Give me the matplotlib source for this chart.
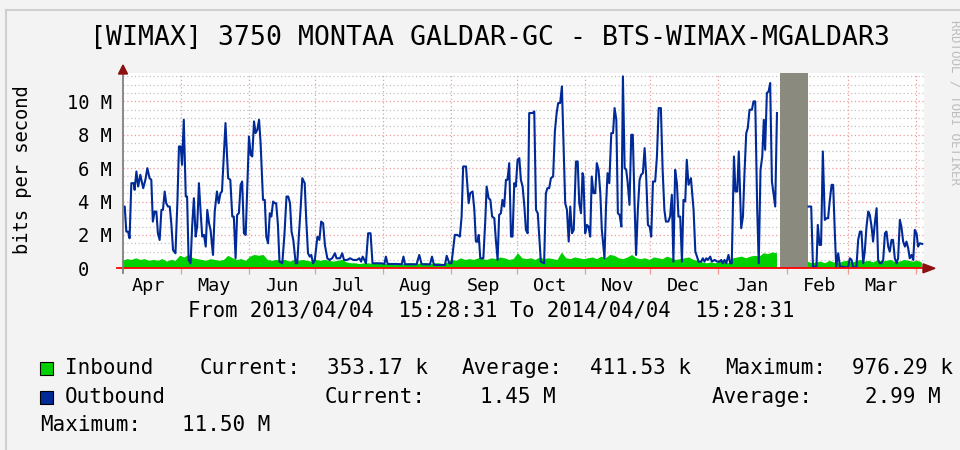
import numpy as np
import matplotlib
matplotlib.use("Agg")
import matplotlib.pyplot as plt
from matplotlib.patches import Rectangle, Polygon
from matplotlib.lines import Line2D
from datetime import datetime

# ---------------- data ----------------
START = datetime(2013, 4, 4, 15, 28, 31)
SPAN_DAYS = 365.0

month_names = ['Apr', 'May', 'Jun', 'Jul', 'Aug', 'Sep', 'Oct', 'Nov', 'Dec', 'Jan', 'Feb', 'Mar']
month_label_dates = [datetime(2013, 4, 16), datetime(2013, 5, 16), datetime(2013, 6, 16),
                     datetime(2013, 7, 16), datetime(2013, 8, 16), datetime(2013, 9, 16),
                     datetime(2013, 10, 16), datetime(2013, 11, 16), datetime(2013, 12, 16),
                     datetime(2014, 1, 16), datetime(2014, 2, 16), datetime(2014, 3, 16)]
month_start_dates = [datetime(2013, 5, 1), datetime(2013, 6, 1), datetime(2013, 7, 1),
                     datetime(2013, 8, 1), datetime(2013, 9, 1), datetime(2013, 10, 1),
                     datetime(2013, 11, 1), datetime(2013, 12, 1), datetime(2014, 1, 1),
                     datetime(2014, 2, 1), datetime(2014, 3, 1), datetime(2014, 4, 1)]

# unknown-data period (days since start)
gap_start, gap_end = 299.2, 312.1

# Outbound (Mbit/s), days since start
out_days_apr = [0.0, 0.8, 1.5, 2.3, 3.0, 3.8, 4.9, 5.3, 6.1, 6.9, 7.9, 9.2, 10.2, 11.1, 12.1, 12.9,
                13.6, 14.4, 15.2, 15.9, 16.7, 17.5, 18.2, 19.0, 19.7, 20.5, 21.3, 22.0, 22.8, 23.9,
                24.8, 25.5, 26.3, 26.9, 27.7, 28.6, 29.2, 29.9, 30.8, 31.5, 32.3, 33.1, 33.8, 34.6,
                35.4, 36.1, 36.9, 37.7, 38.4, 39.2, 39.9, 41.0, 41.8, 42.8, 43.6, 44.4, 45.1, 46.7,
                47.9, 48.9, 49.8]
out_vals_apr = [3.7, 3.7, 2.2, 2.2, 1.8, 5.1, 5.1, 4.7, 5.8, 4.9, 5.6, 4.8, 5.3, 6.0, 5.4, 5.3,
                2.8, 3.4, 3.4, 2.1, 1.7, 3.5, 3.5, 4.6, 3.9, 3.7, 3.7, 2.7, 1.1, 0.9,
                4.0, 7.3, 7.3, 6.2, 8.9, 4.3, 4.3, 0.5, 0.3, 2.5, 4.2, 1.9, 2.5, 5.1,
                3.3, 1.9, 2.0, 1.3, 3.5, 2.7, 2.3, 0.8, 3.4, 4.6, 3.9, 4.5, 4.6, 8.7,
                5.4, 5.3, 3.1]

out_days_jun = [50.5, 51.3, 52.0, 52.8, 53.6, 54.3, 55.1, 55.9, 57.4, 58.2, 58.9, 59.7, 60.4, 61.2,
                62.0, 62.7, 63.8, 64.6, 65.3, 66.1, 66.9, 67.6, 68.4, 69.1, 69.8, 70.6, 71.3, 72.6,
                73.6, 74.5, 75.3, 76.1, 76.8, 77.6, 78.7, 79.4, 80.2, 80.9, 81.7, 82.8, 83.5, 84.3,
                85.1, 85.8, 86.6, 87.4, 88.6, 89.5, 90.3, 91.2, 92.0, 93.1, 94.1, 95.3, 96.6, 97.3,
                98.9, 99.9, 100.7, 102.2]
out_vals_jun = [3.1, 0.6, 3.2, 3.3, 5.0, 5.2, 2.1, 2.0, 7.9, 6.8, 6.7, 8.8, 8.1, 8.3,
                8.9, 7.5, 4.1, 4.1, 1.9, 1.5, 3.3, 3.1, 4.0, 3.9, 3.9, 2.6, 0.4, 0.3,
                2.1, 4.3, 4.3, 3.9, 2.2, 1.7, 0.3, 0.3, 2.1, 3.5, 5.4, 5.1, 2.9, 0.9,
                0.7, 0.8, 0.3, 0.5, 1.9, 1.7, 2.8, 2.7, 1.4, 0.6, 0.5, 0.6, 0.9, 0.6,
                0.6, 0.9, 0.5, 0.5]

out_days_aug = [103.4, 105.0, 106.5, 107.7, 108.5, 109.2, 110.0, 110.7, 111.7, 112.8, 113.7, 115.5,
                117.8, 119.1, 119.8, 120.6, 124.7, 127.0, 127.8, 128.5, 133.8, 135.0, 136.1, 139.9,
                140.8, 141.7, 146.7, 147.5, 148.7, 149.7, 151.2, 152.3, 153.5, 154.3, 155.0, 156.3]
out_vals_aug = [0.6, 0.5, 0.5, 0.6, 0.4, 0.7, 0.5, 0.3, 2.1, 2.1, 0.3, 0.3,
                0.3, 0.26, 0.7, 0.26, 0.26, 0.24, 0.7, 0.24, 0.24, 0.8, 0.24, 0.24,
                0.7, 0.2, 0.2, 0.75, 0.3, 0.3, 2.0, 2.0, 1.9, 3.1, 6.1, 6.1]

out_days_sep = [157.5, 158.2, 159.3, 160.1, 160.8, 161.6, 162.1, 162.8, 164.2, 165.1, 165.7, 166.6,
                167.4, 168.2, 169.2, 169.9, 170.7, 171.4, 172.2, 172.9, 173.7, 174.5, 175.2, 176.0,
                176.8, 177.5, 178.3, 179.0, 179.8, 180.6, 181.3, 182.1, 182.9, 183.6, 184.4, 185.1,
                186.7, 187.4, 188.2, 189.0, 189.6, 190.4, 191.9, 192.7, 193.4, 194.2, 195.0, 196.0,
                196.8, 197.6, 198.3, 199.2, 200.0, 200.8, 201.5, 202.3, 203.1, 203.8, 204.6, 205.4,
                206.4, 207.2, 207.9, 208.7, 209.4]
out_vals_sep = [3.9, 4.5, 4.6, 3.5, 1.6, 1.6, 2.0, 0.6, 0.6, 2.9, 4.9, 4.2,
                4.1, 3.1, 3.0, 1.7, 0.5, 3.2, 3.3, 4.1, 3.7, 5.3, 5.3, 6.3,
                1.9, 1.9, 5.1, 4.9, 6.5, 6.6, 5.3, 4.9, 3.7, 2.3, 2.1, 9.3,
                9.3, 9.4, 3.5, 3.3, 2.1, 0.4, 0.3, 4.5, 4.8, 4.8, 5.4, 5.5,
                8.2, 9.3, 9.9, 9.9, 10.9, 7.1, 3.9, 3.5, 1.6, 3.7, 2.1, 2.3,
                6.4, 6.4, 3.9, 3.3, 5.7]

out_days_nov = [209.8, 210.6, 211.4, 212.1, 212.9, 213.6, 214.4, 215.2, 215.9, 216.7, 217.5, 218.2,
                219.4, 220.1, 220.8, 221.6, 222.5, 223.3, 224.0, 224.8, 225.5, 226.3, 227.1, 227.8,
                228.6, 229.3, 230.0, 230.8, 231.6, 232.3, 233.1, 233.8, 234.6, 235.4, 236.1, 236.9,
                237.7, 238.4, 239.2, 240.0, 240.7, 241.5, 242.5, 243.3, 244.1, 245.1, 245.9, 246.7,
                247.4, 248.5, 249.3, 250.1, 250.8, 251.6, 252.4, 253.1, 253.9, 254.7, 255.4, 256.2,
                256.9, 257.7, 258.8, 260.0, 260.8, 262.3]
out_vals_nov = [5.5, 2.1, 2.6, 2.5, 1.9, 5.5, 4.5, 4.5, 6.3, 5.9, 4.5, 2.3,
                0.6, 3.7, 5.7, 5.1, 8.1, 8.1, 9.6, 8.9, 3.3, 3.2, 2.5, 11.5,
                6.0, 5.9, 5.1, 3.8, 8.0, 8.0, 3.9, 0.8, 3.5, 5.3, 5.6, 5.7,
                7.2, 5.5, 2.6, 2.5, 1.9, 5.2, 5.2, 6.7, 9.6, 9.6, 5.9, 3.5,
                2.8, 2.8, 3.1, 4.4, 0.4, 5.9, 5.1, 3.1, 3.1, 0.4, 4.1, 4.0,
                6.5, 5.0, 5.4, 3.5, 1.0, 0.4]

out_days_jan = [263.5, 264.2, 265.0, 265.8, 266.5, 267.6, 268.3, 269.6, 270.8, 271.8, 272.6, 273.3,
                274.1, 274.9, 275.9, 276.7, 277.4, 278.4, 279.1, 279.9, 280.6, 281.7, 282.5, 283.2,
                284.0, 284.7, 285.5, 286.6, 287.3, 288.1, 289.0, 289.7, 290.5, 291.3, 292.0, 292.6,
                293.4, 294.2, 294.9, 295.7, 296.4, 297.2, 298.0]
out_vals_jan = [0.4, 0.6, 0.4, 0.6, 0.5, 0.7, 0.4, 0.5, 0.4, 0.4, 0.5, 0.3,
                0.5, 0.3, 0.8, 0.3, 0.3, 6.7, 4.6, 4.6, 7.0, 2.4, 3.1, 5.7,
                8.1, 8.4, 9.5, 9.5, 10.0, 10.0, 3.5, 0.3, 5.9, 6.7, 8.9, 7.1,
                10.5, 10.6, 11.1, 5.2, 4.5, 3.7, 9.3]

out_days_mar = [312.4, 313.6, 314.4, 316.0, 316.6, 317.4, 318.1, 318.9, 319.8, 320.6, 321.3, 322.1,
                322.9, 323.6, 324.4, 325.0, 325.9, 326.7, 327.7, 329.2, 330.4, 331.2, 332.0, 332.7,
                334.2, 335.0, 335.8, 336.5, 337.3, 338.0, 338.8, 339.6, 340.3, 341.1, 341.8, 342.6,
                343.4, 344.1, 344.9, 345.6, 346.4, 347.2, 347.9, 348.7, 349.4, 350.2, 350.9, 351.7,
                352.5, 353.2, 354.0, 354.7, 355.5, 356.3, 357.0, 357.8, 358.5, 359.3, 360.1, 360.8,
                361.6, 362.3, 363.1, 364.2]
out_vals_mar = [3.7, 3.7, 0.1, 0.1, 2.6, 1.4, 1.4, 7.0, 2.9, 3.0, 3.0, 4.1,
                5.0, 5.0, 2.0, 0.1, 0.9, 0.1, 0.1, 0.06, 0.06, 0.6, 0.5, 0.06,
                0.06, 1.7, 2.2, 2.2, 0.3, 1.0, 2.5, 3.4, 3.2, 2.5, 1.6, 2.7,
                3.6, 0.5, 0.3, 0.3, 0.5, 2.1, 2.2, 1.3, 1.0, 1.7, 1.7, 0.6,
                0.3, 0.6, 2.9, 2.5, 1.6, 1.3, 1.6, 1.2, 0.6, 0.8, 0.5, 2.3,
                2.1, 1.3, 1.5, 1.46]

# Inbound (Mbit/s), one reading every 2 days from the start (NaN = unknown)
in_vals = ([0.45, 0.55, 0.5, 0.6, 0.5, 0.55, 0.45, 0.5, 0.45, 0.55, 0.4, 0.5, 0.45] +
           [0.75, 0.65, 0.8, 0.6, 0.55] +
           [0.5, 0.45, 0.55, 0.5, 0.45, 0.5, 0.75, 0.6] +
           [0.5, 0.55, 0.45, 0.7, 0.8, 0.75, 0.8] +
           [0.5, 0.45, 0.5, 0.45, 0.5, 0.4, 0.5, 0.45, 0.5, 0.45, 0.4, 0.5, 0.45, 0.5, 0.45, 0.4, 0.45, 0.5] +
           [0.35, 0.3, 0.3, 0.25, 0.3, 0.3, 0.25, 0.3, 0.3, 0.25, 0.3, 0.3, 0.3, 0.25, 0.3, 0.3, 0.25,
            0.3, 0.3, 0.25, 0.3, 0.3, 0.25] +
           [0.35, 0.5, 0.45, 0.6, 0.5] +
           [0.55, 0.5, 0.6, 0.55, 0.5, 0.6, 0.55, 0.65, 0.6, 0.5, 0.55, 0.9, 0.6, 0.55, 0.6, 0.5, 0.65,
            0.55, 0.6, 0.55, 0.5, 0.95, 0.6, 0.55, 0.65, 0.6] +
           [0.55, 0.6, 0.65, 0.55, 0.7, 0.6, 0.8, 0.75, 0.6, 0.55, 0.65, 0.8, 0.6, 0.55, 0.6, 0.5, 0.65,
            0.6, 0.55, 0.7, 0.6, 0.5, 0.55, 0.6, 0.65, 0.5, 0.45] +
           [0.35, 0.3, 0.35, 0.3, 0.4, 0.35, 0.3, 0.6] +
           [0.65, 0.7, 0.6, 0.7, 0.75, 0.7, 0.9, 0.85, 0.95, 0.9] +
           [np.nan] * 6 +
           [0.4, 0.3, 0.35, 0.4, 0.3, 0.45, 0.35, 0.3, 0.4, 0.45, 0.35, 0.4, 0.5, 0.4, 0.45, 0.35, 0.5,
            0.4, 0.45, 0.5, 0.35, 0.4, 0.5, 0.45, 0.4, 0.45, 0.35])
in_step_days = 2

title = "[WIMAX] 3750 MONTAA GALDAR-GC - BTS-WIMAX-MGALDAR3"
period_text = "From 2013/04/04  15:28:31 To 2014/04/04  15:28:31"
ytick_vals = [0, 2, 4, 6, 8, 10]
ytick_labels = ['0  ', '2 M', '4 M', '6 M', '8 M', '10 M']

# ---------------- build series ----------------
def days_since(d):
    return (d - START).total_seconds() / 86400.0

out_days = np.array(out_days_apr + out_days_jun + out_days_aug + out_days_sep +
                    out_days_nov + out_days_jan + [(gap_start + gap_end) / 2] + out_days_mar)
out_vals = np.array(out_vals_apr + out_vals_jun + out_vals_aug + out_vals_sep +
                    out_vals_nov + out_vals_jan + [np.nan] + out_vals_mar)
in_vals = np.array(in_vals)
in_days = np.arange(len(in_vals)) * in_step_days

# ---------------- figure ----------------
W, H = 960, 450
BG = '#F3F3F3'
MONO = 'DejaVu Sans Mono'
fig = plt.figure(figsize=(W / 100, H / 100), dpi=100, facecolor=BG)

def fx(px):
    return px / W

def fy(py):
    return 1 - py / H

PL, PR, PB, PT = 123, 924, 268.3, 73
ax = fig.add_axes([fx(PL), fy(PB), (PR - PL) / W, (PB - PT) / H])
ax.set_facecolor('white')
ax.set_xlim(0, SPAN_DAYS)
ax.set_ylim(0, 11.7)
for s in ax.spines.values():
    s.set_visible(False)

# grid
MINOR_C = '#C2C2C2'
MAJOR_C = '#F09A9A'
for v in np.arange(0.5, 11.6, 0.5):
    if v in ytick_vals:
        continue
    ax.axhline(v, color=MINOR_C, lw=0.9, ls=(0, (1, 2)), zorder=1)
for v in ytick_vals[1:]:
    ax.axhline(v, color=MAJOR_C, lw=0.9, ls=(0, (1, 2)), zorder=1)
ms_days = [days_since(d) for d in month_start_dates]
for d in ms_days:
    ax.axvline(d, color=MAJOR_C, lw=0.9, ls=(0, (1, 2)), zorder=1)

# data
ax.fill_between(in_days, 0, in_vals, color='#00CF00', lw=0, zorder=2)
ax.axvspan(gap_start, gap_end, color='#8A8B7E', lw=0, zorder=3)
ax.plot(out_days, out_vals, color='#002A97', lw=1.5, zorder=4, solid_joinstyle='round')

# ticks
ax.set_xticks(ms_days)
ax.set_xticklabels([''] * len(ms_days))
ax.tick_params(axis='x', which='major', length=4, color=MAJOR_C, width=0.9)
ax.set_xticks([days_since(d) for d in month_label_dates], minor=True)
ax.set_xticklabels(month_names, minor=True, family=MONO, fontsize=13.3)
ax.tick_params(axis='x', which='minor', length=0, pad=6)
ax.set_yticks(ytick_vals)
ax.set_yticklabels(ytick_labels, family=MONO, fontsize=13.5)
ax.tick_params(axis='y', length=0, pad=8)

# axes lines + arrows (decoration)
fig.add_artist(Line2D([fx(117), fx(924)], [fy(PB), fy(PB)], color='#FF0000', lw=1.3, zorder=10))
fig.add_artist(Polygon([(fx(923), fy(PB - 4.5)), (fx(935), fy(PB)), (fx(923), fy(PB + 4.5))],
                       closed=True, color='#8B1010', zorder=10))
fig.add_artist(Line2D([fx(PL), fx(PL)], [fy(273), fy(74)], color='#808080', lw=1.3, zorder=10))
fig.add_artist(Polygon([(fx(PL - 4.5), fy(74)), (fx(PL), fy(65)), (fx(PL + 4.5), fy(74))],
                       closed=True, color='#8B1010', zorder=10))

# frame shade
fig.add_artist(Line2D([fx(6), fx(W)], [fy(10), fy(10)], color='#CFCFCF', lw=1.5))
fig.add_artist(Line2D([fx(6), fx(6)], [fy(10), fy(H)], color='#CFCFCF', lw=1.5))

# texts
fig.text(fx(490), fy(38), title, ha='center', va='center', family=MONO, fontsize=19.1)
fig.text(fx(23), fy(170), 'bits per second', rotation=90, ha='center', va='center',
         family=MONO, fontsize=13.5)
fig.text(fx(491), fy(310), period_text, ha='center', va='center', family=MONO, fontsize=14.8)
fig.text(fx(955), fy(20), 'RRDTOOL / TOBI OETIKER', rotation=270, ha='center', va='top',
         family=MONO, fontsize=9, color='#BDBDBD')

# legend
LF = 15
fig.add_artist(Rectangle((fx(40), fy(374.5)), 13 / W, 13 / H, facecolor='#00CF00',
                         edgecolor='black', lw=0.8))
fig.add_artist(Rectangle((fx(40), fy(403.5)), 13 / W, 13 / H, facecolor='#002A97',
                         edgecolor='black', lw=0.8))
row1 = [(65, 'Inbound'), (200, 'Current:'), (327, '353.17 k'), (462, 'Average:'),
        (590, '411.53 k'), (725, 'Maximum:'), (852, '976.29 k')]
row2 = [(65, 'Outbound'), (325, 'Current:'), (480, '1.45 M'), (712, 'Average:'), (865, '2.99 M')]
row3 = [(40, 'Maximum:'), (182, '11.50 M')]
for yy, row in ((368, row1), (397, row2), (425, row3)):
    for xx, s in row:
        fig.text(fx(xx), fy(yy), s, ha='left', va='center', family=MONO, fontsize=LF)

fig.savefig('out.png', dpi=100, facecolor=BG)
